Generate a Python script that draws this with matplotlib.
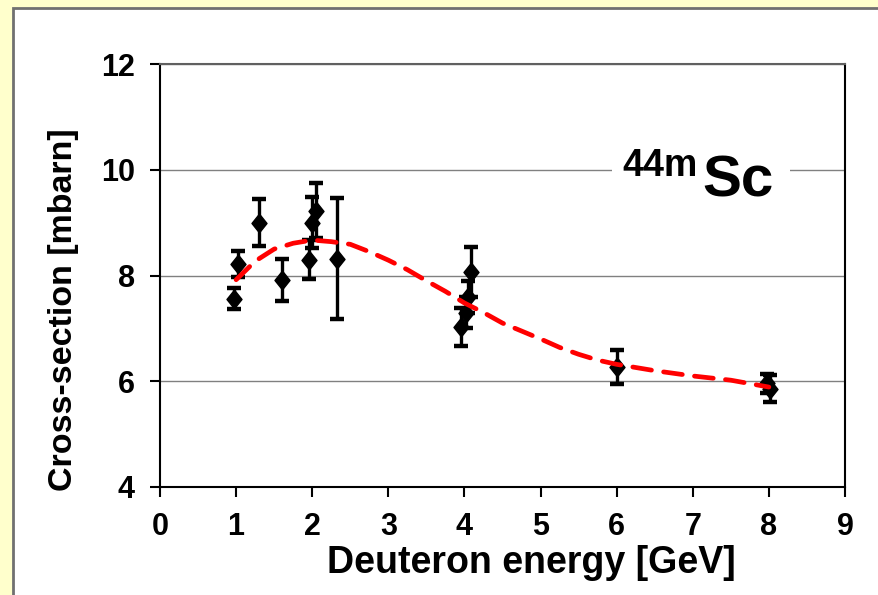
import matplotlib.pyplot as plt
from matplotlib.patches import Rectangle
from matplotlib.path import Path

plt.rcParams['font.family'] = ['Liberation Sans', 'DejaVu Sans']
plt.rcParams['font.weight'] = 'bold'

# measured cross-sections (energy GeV, sigma mbarn, error)
energy = [0.97, 1.03, 1.30, 1.60, 1.96, 2.00, 2.05, 2.33, 3.96, 4.02, 4.05, 4.09, 6.00, 7.98, 8.02]
sigma = [7.56, 8.22, 9.00, 7.91, 8.30, 9.00, 9.22, 8.32, 7.03, 7.30, 7.60, 8.07, 6.27, 5.96, 5.86]
sigma_err = [0.20, 0.25, 0.45, 0.40, 0.37, 0.48, 0.52, 1.15, 0.36, 0.30, 0.30, 0.47, 0.33, 0.18, 0.26]

# model curve
model_e = [1.0, 1.25, 1.5, 1.75, 2.0, 2.25, 2.5, 2.75, 3.0, 3.25, 3.5, 3.75, 4.0,
           4.25, 4.5, 4.75, 5.0, 5.25, 5.5, 5.75, 6.0, 6.5, 7.0, 7.5, 8.0]
model_sigma = [7.92, 8.27, 8.50, 8.61, 8.67, 8.64, 8.59, 8.45, 8.29, 8.11, 7.90, 7.70, 7.48,
               7.30, 7.10, 6.95, 6.80, 6.64, 6.51, 6.40, 6.32, 6.20, 6.10, 6.02, 5.89]

fig = plt.figure(figsize=(8.79, 5.95), dpi=100)
fig.patch.set_facecolor('#FFFFCC')
# white panel with a grey frame on the yellow page
fig.patches.append(Rectangle((13 / 879, -0.01), 1.0, 1.01 - 8 / 595, transform=fig.transFigure,
                             facecolor='white', edgecolor='#707070', linewidth=2, zorder=-5))

ax = fig.add_axes([160 / 879, 1 - 487 / 595, 685 / 879, 423 / 595])
ax.set_facecolor('white')

diamond = Path([(0, 1), (0.8, 0), (0, -1), (-0.8, 0), (0, 1)],
               [Path.MOVETO, Path.LINETO, Path.LINETO, Path.LINETO, Path.CLOSEPOLY])

ax.plot(model_e, model_sigma, color='red', linewidth=3.4, dashes=(4.0, 2.6),
        dash_capstyle='round', zorder=4)
ax.errorbar(energy, sigma, yerr=sigma_err, fmt='none', ecolor='black', elinewidth=2.4,
            capsize=5, capthick=3.2, zorder=3)
ax.plot(energy, sigma, linestyle='none', marker=diamond, markersize=13.5,
        color='black', zorder=3)

ax.set_xlim(0, 9)
ax.set_ylim(4, 12)
ax.set_xticks(range(0, 10))
ax.set_yticks([4, 6, 8, 10, 12])
ax.grid(axis='y', color='#808080', linewidth=1)
ax.set_axisbelow(True)
ax.tick_params(axis='both', direction='out', length=7, width=1.5, labelsize=22, pad=11)
for side in ['left', 'bottom', 'right']:
    ax.spines[side].set_color('black')
    ax.spines[side].set_linewidth(1.5)
ax.spines['top'].set_color('#606060')
ax.spines['top'].set_linewidth(1.5)

ax.set_xlabel('Deuteron energy [GeV]', fontsize=27, fontweight='bold')
ax.set_ylabel('Cross-section [mbarn]', fontsize=24.5, fontweight='bold')
ax.xaxis.set_label_coords(0.542, -0.138)
ax.yaxis.set_label_coords(-0.118, 0.418)

# isotope tag over the 10 mbarn gridline
ax.add_patch(Rectangle((5.94, 9.75), 2.34, 0.5, facecolor='white', edgecolor='none', zorder=2))
ax.text(7.13, 9.485, 'Sc', fontsize=42, fontweight='bold', ha='left', va='baseline', zorder=5)
ax.text(7.07, 9.88, '44m', fontsize=27, fontweight='bold', ha='right', va='baseline', zorder=5)

fig.savefig('out.png', dpi=100, facecolor=fig.get_facecolor())
